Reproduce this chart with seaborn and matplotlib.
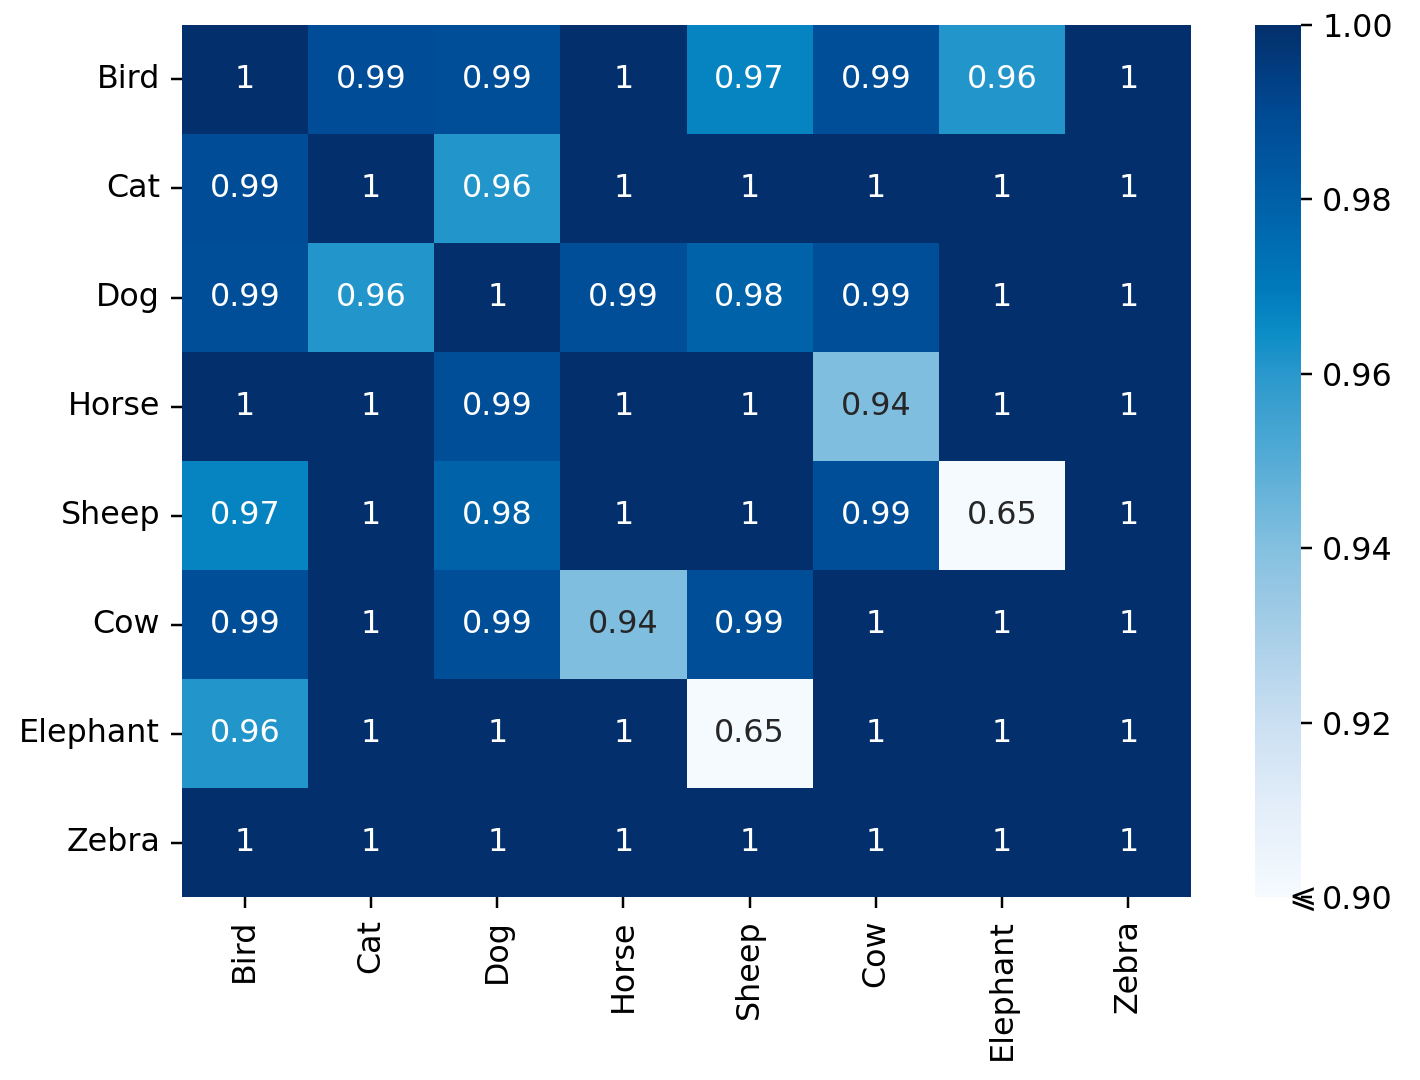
import numpy as np
import pandas as pd
import matplotlib
matplotlib.use("Agg")
import matplotlib.pyplot as plt
import matplotlib.transforms as mtransforms
import seaborn as sns
from matplotlib.colors import LinearSegmentedColormap

# Labels
animals = ['Bird', 'Cat', 'Dog', 'Horse', 'Sheep', 'Cow', 'Elephant', 'Zebra']

# Similarity rows
bird = [1.0, 0.989, 0.988, 1.0, 0.967, 0.988, 0.961, 1.0]
cat = [0.989, 1.0, 0.961, 1.0, 1.0, 1.0, 1.0, 1.0]
dog = [0.988, 0.961, 1.0, 0.988, 0.979, 0.988, 1.0, 1.0]
horse = [1.0, 1.0, 0.988, 1.0, 1.0, 0.941, 1.0, 1.0]
sheep = [0.967, 1.0, 0.979, 1.0, 1.0, 0.988, 0.65, 1.0]
cow = [0.988, 1.0, 0.988, 0.941, 0.988, 1.0, 1.0, 1.0]
elephant = [0.961, 1.0, 1.0, 1.0, 0.65, 1.0, 1.0, 1.0]
zebra = [1.0, 1.0, 1.0, 1.0, 1.0, 1.0, 1.0, 1.0]

# Colorbar ticks
cbar_ticks = [0.90, 0.92, 0.94, 0.96, 0.98, 1.00]
cbar_labels = ['0.90', '0.92', '0.94', '0.96', '0.98', '1.00']

df = pd.DataFrame([bird, cat, dog, horse, sheep, cow, elephant, zebra],
                  index=animals, columns=animals)

# Blue colormap sampled from the reference colorbar
cmap = LinearSegmentedColormap.from_list('simblue', [
    (0.0, '#f5faff'), (0.1, '#e3eef9'), (0.2, '#cadff2'), (0.3, '#a8cfe8'),
    (0.4, '#84c0e0'), (0.5, '#55acd6'), (0.6, '#2a98cc'), (0.65, '#0a8cc6'),
    (0.7, '#0079bb'), (0.8, '#0060a8'), (0.9, '#004a94'), (1.0, '#03306c'),
])

plt.rcParams['font.family'] = ['DejaVu Sans', 'Noto Sans']
plt.rcParams['font.size'] = 10.3

fig = plt.figure(figsize=(1420 / 222, 1080 / 222), dpi=222)
ax = fig.add_axes([0.128, 0.169, 0.711, 0.808])
cax = fig.add_axes([0.884, 0.169, 0.032, 0.808])

sns.heatmap(df, annot=True, cmap=cmap, vmin=0.9, vmax=1.0, ax=ax, cbar_ax=cax)
ax.set_xticklabels(animals, rotation=90)
ax.set_yticklabels(animals, rotation=0)

cax.set_yticks(cbar_ticks)
cax.set_yticklabels(cbar_labels)
cax.tick_params(length=3.5)

# "less or equal" mark for the clipped bottom end
trans = mtransforms.blended_transform_factory(cax.transAxes, cax.transData)
cax.text(1.05, 0.90, '⩽', transform=trans, ha='center', va='center',
         fontsize=11, clip_on=False)

plt.savefig('out.png', dpi=222)
